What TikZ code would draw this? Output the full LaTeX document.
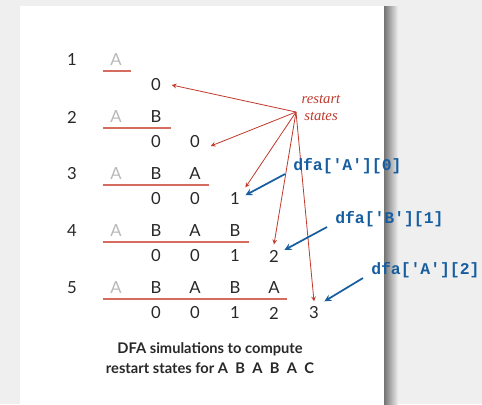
\documentclass[tikz,border=0pt]{standalone}
\usepackage{fontspec}
\setmainfont{Lato}
\setmonofont{Liberation Mono}
\newfontfamily\serifit{Liberation Serif}
\usetikzlibrary{arrows}

\definecolor{bggray}{RGB}{239,239,239}
\definecolor{ink}{RGB}{40,40,40}
\definecolor{pale}{RGB}{185,185,185}
\definecolor{rsred}{RGB}{192,57,43}
\definecolor{ulred}{RGB}{214,108,96}
\definecolor{dfablue}{RGB}{22,94,160}

\tikzset{
  ch/.style={inner sep=4pt, text=ink, font=\fontsize{12.5}{14}\selectfont},
  gone/.style={ch, text=pale},
  uline/.style={draw=ulred, line width=1pt},
  rsarrow/.style={draw=rsred, line width=0.6pt, -stealth},
  dfalabel/.style={anchor=west, inner sep=0pt, text=dfablue, font=\fontsize{12.3}{14}\selectfont\ttfamily\bfseries},
  dfaarrow/.style={draw=dfablue, line width=1.3pt, -stealth}
}

\begin{document}
\begin{tikzpicture}[x=0.75pt,y=0.75pt,yscale=-1,xscale=1]
\useasboundingbox (0,0) rectangle (482,404);

%Shape: page and shadow
\fill[bggray] (0,0) rectangle (482,404);
\shade[left color=black!55, right color=bggray] (384,6) rectangle (398,404);
\fill[white] (20,6) rectangle (384,404);

% Text Node: row numbers
\node[ch] (n1) at (72,60) {1};
\node[ch] (n2) at (72,117) {2};
\node[ch] (n3) at (72,174) {3};
\node[ch] (n4) at (72,231) {4};
\node[ch] (n5) at (72,288) {5};

% Text Node: row 1
\node[gone] (a11) at (116,60) {A};
\node[ch] (d11) at (156,85) {0};
% Text Node: row 2
\node[gone] (a21) at (116,117) {A};
\node[ch] (a22) at (156,117) {B};
\node[ch] (d21) at (156,142) {0};
\node[ch] (d22) at (195,142) {0};
% Text Node: row 3
\node[gone] (a31) at (116,174) {A};
\node[ch] (a32) at (156,174) {B};
\node[ch] (a33) at (195,174) {A};
\node[ch] (d31) at (156,199) {0};
\node[ch] (d32) at (195,199) {0};
\node[ch] (d33) at (235,199) {1};
% Text Node: row 4
\node[gone] (a41) at (116,231) {A};
\node[ch] (a42) at (156,231) {B};
\node[ch] (a43) at (195,231) {A};
\node[ch] (a44) at (235,231) {B};
\node[ch] (d41) at (156,256) {0};
\node[ch] (d42) at (195,256) {0};
\node[ch] (d43) at (235,256) {1};
\node[ch] (d44) at (274,256) {2};
% Text Node: row 5
\node[gone] (a51) at (116,288) {A};
\node[ch] (a52) at (156,288) {B};
\node[ch] (a53) at (195,288) {A};
\node[ch] (a54) at (235,288) {B};
\node[ch] (a55) at (274,288) {A};
\node[ch] (d51) at (156,313) {0};
\node[ch] (d52) at (195,313) {0};
\node[ch] (d53) at (235,313) {1};
\node[ch] (d54) at (274,313) {2};
\node[ch] (d55) at (314,313) {3};

%Straight Lines: underlines
\draw[uline] (103,71) -- (131,71);
\draw[uline] (103,128) -- (171,128);
\draw[uline] (103,185) -- (209,185);
\draw[uline] (103,242) -- (249,242);
\draw[uline] (103,299) -- (287,299);

% Text Node: restart states
\node[text=rsred, inner sep=1pt, align=center, font=\fontsize{11}{12.75}\selectfont\serifit\itshape] (rst) at (321,108) {restart\\states};
\coordinate (rs) at (296,112);

%Straight Lines: restart arrows
\draw[rsarrow] (rs) -- ([xshift=4]d11.east);
\draw[rsarrow] (rs) -- ([xshift=4,yshift=3]d22.east);
\draw[rsarrow] (rs) -- (d33.north east);
\draw[rsarrow] (rs) -- (d44.north);
\draw[rsarrow] (rs) -- (d55.north);

% Text Node: dfa labels
\node[dfalabel] (la0) at (293,166) {dfa['A'][0]};
\node[dfalabel] (lb1) at (335,219) {dfa['B'][1]};
\node[dfalabel] (la2) at (371,270) {dfa['A'][2]};

%Straight Lines: dfa arrows
\draw[dfaarrow] ([xshift=-6]la0.south west) -- (d33.20);
\draw[dfaarrow] ([xshift=-6]lb1.south west) -- (d44.30);
\draw[dfaarrow] ([xshift=-6]la2.south west) -- (d55.north east);

% Text Node: caption
\node[text=ink, align=center, font=\fontsize{11}{15}\selectfont\bfseries] (cap) at (210,358)
  {DFA simulations to compute\\restart states for A\enspace B\enspace A\enspace B\enspace A\enspace C};

\end{tikzpicture}
\end{document}
